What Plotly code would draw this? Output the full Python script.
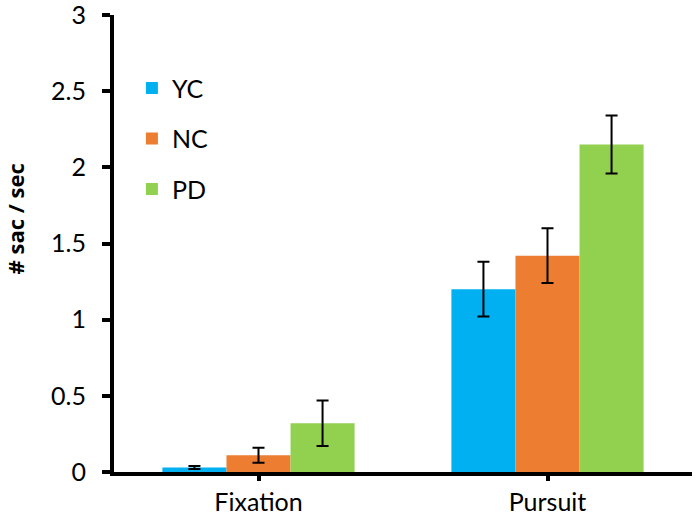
import plotly.graph_objects as go

categories = ["Fixation", "Pursuit"]
groups = ["YC", "NC", "PD"]
yc_vals = [0.03, 1.20]
nc_vals = [0.11, 1.42]
pd_vals = [0.32, 2.15]
yc_err = [0.01, 0.18]
nc_err = [0.05, 0.18]
pd_err = [0.15, 0.19]
colors = ["#00B0F0", "#ED7D31", "#92D050"]
y_ticks = [0, 0.5, 1, 1.5, 2, 2.5, 3]
y_ticktext = ["0", "0.5", "1", "1.5", "2", "2.5", "3"]
y_title = "# sac / sec"

font_family = "Lato, Open Sans, sans-serif"

fig = go.Figure()
for name, vals, errs, col in zip(groups, [yc_vals, nc_vals, pd_vals],
                                 [yc_err, nc_err, pd_err], colors):
    fig.add_trace(go.Bar(
        x=categories, y=vals, name=name, legendgroup=name,
        marker=dict(color=col, line=dict(width=0)),
        error_y=dict(type="data", array=errs, visible=True,
                     color="black", thickness=2, width=6),
    ))

fig.update_layout(
    width=696, height=520,
    margin=dict(l=114, r=4, t=15, b=48, autoexpand=False),
    paper_bgcolor="white", plot_bgcolor="white",
    barmode="group", bargap=0.335, bargroupgap=0,
    font=dict(family=font_family, size=25, color="black"),
    showlegend=True,
    legend=dict(x=0.031, y=0.89, xanchor="left", yanchor="top",
                bgcolor="rgba(0,0,0,0)", tracegroupgap=15,
                font=dict(size=25, color="black")),
    xaxis=dict(
        showline=True, linecolor="black", linewidth=4,
        ticks="outside", ticklen=5, tickwidth=4, tickcolor="black",
        tickfont=dict(size=25, color="black"),
        showgrid=False, zeroline=False, automargin=False,
    ),
    yaxis=dict(
        range=[0, 3], tickvals=y_ticks, ticktext=y_ticktext,
        showline=True, linecolor="black", linewidth=4,
        ticks="outside", ticklen=8, tickwidth=4, tickcolor="black",
        tickfont=dict(size=25, color="black"),
        ticklabelstandoff=11, ticklabeloverflow="allow",
        showgrid=False, zeroline=False, automargin=False,
    ),
    annotations=[dict(
        text="<b>" + y_title + "</b>", xref="paper", yref="paper",
        x=-0.172, y=0.554, xanchor="center", yanchor="middle",
        textangle=-90, showarrow=False,
        font=dict(size=22, color="black", family="Open Sans, sans-serif"),
    )],
)

fig.write_html("out.html", config={"displayModeBar": False},
               post_script="document.body.style.margin='0px';")
